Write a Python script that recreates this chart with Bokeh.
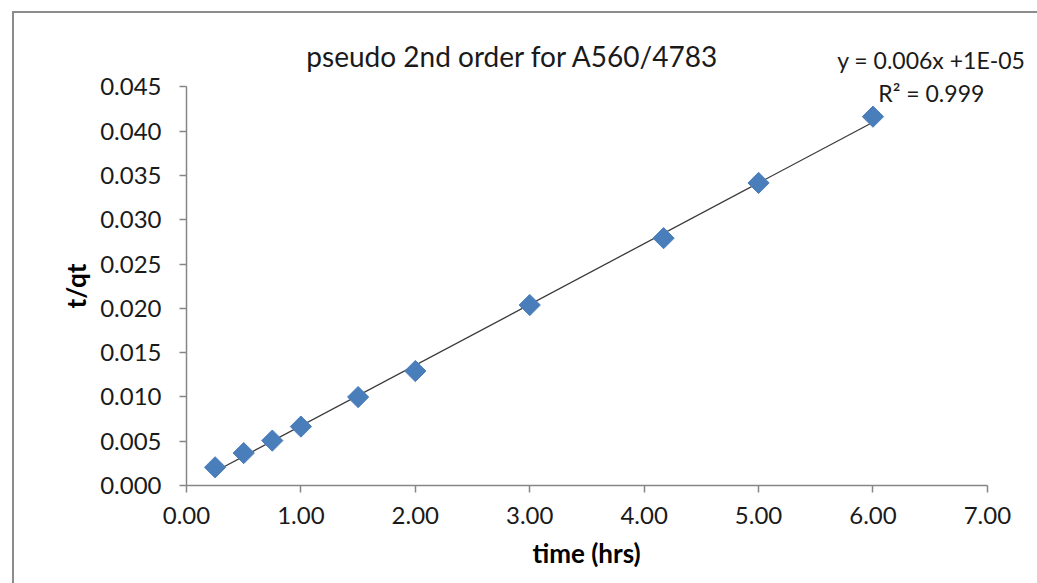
import numpy as np
from bokeh.plotting import figure
from bokeh.models import Label, FixedTicker, NumeralTickFormatter, Range1d, Title
from bokeh.embed import file_html
from bokeh.resources import INLINE

# data
time_hrs = [0.25, 0.5, 0.75, 1.0, 1.5, 2.0, 3.0, 4.17, 5.0, 6.0]
t_over_qt = [0.00205, 0.00366, 0.00507, 0.00665, 0.00998, 0.01292, 0.02037, 0.02792, 0.03415, 0.04163]
x_ticks = [0, 1, 2, 3, 4, 5, 6, 7]
y_ticks = [0.0, 0.005, 0.010, 0.015, 0.020, 0.025, 0.030, 0.035, 0.040, 0.045]
title_text = "pseudo 2nd order for A560/4783"
eq_text = "y = 0.006x +1E-05"
r2_text = "R\u00b2 = 0.999"
x_label = "time (hrs)"
y_label = "t/qt"

X_MAX, Y_MAX = 7.0, 0.045
# the frame is extended past the axis bounds so that the title and equation fit inside it
x_end = X_MAX * 851 / 799
y_end = Y_MAX * 470 / 397

FONT = "Lato"
AX = "#868686"
TXT = "#1a1a1a"

p = figure(width=1025, height=572, output_backend="svg", toolbar_location=None,
           x_range=Range1d(0, x_end), y_range=Range1d(0, y_end),
           min_border_left=172, min_border_right=0, min_border_top=0, min_border_bottom=100,
           margin=(11, 0, 0, 12))
p.styles = {"border-left": "2px solid #8c8c8c", "border-top": "2px solid #8c8c8c", "box-sizing": "border-box"}
p.outline_line_color = None
p.grid.visible = False
p.background_fill_color = "white"
p.border_fill_color = "white"

for ax in (p.xaxis[0], p.yaxis[0]):
    ax.axis_line_color = AX
    ax.axis_line_width = 1.5
    ax.major_tick_line_color = AX
    ax.major_tick_line_width = 1.5
    ax.major_tick_out = 7
    ax.major_tick_in = 0
    ax.minor_tick_line_color = None
    ax.major_label_text_font = FONT
    ax.major_label_text_font_size = "24px"
    ax.major_label_text_color = TXT

p.xaxis.bounds = (0, X_MAX)
p.yaxis.bounds = (0, Y_MAX)
p.xaxis.ticker = FixedTicker(ticks=x_ticks)
p.yaxis.ticker = FixedTicker(ticks=y_ticks)
p.xaxis.formatter = NumeralTickFormatter(format="0.00")
p.yaxis.formatter = NumeralTickFormatter(format="0.000")
p.xaxis.major_label_standoff = 14
p.yaxis.major_label_standoff = 18

# axis titles, centred on the axis bounds rather than the (extended) frame
p.add_layout(Title(text=x_label, align="left", offset=346, standoff=17,
                   text_font=FONT, text_font_size="26px", text_font_style="bold",
                   text_color="#000000"), "below")
p.add_layout(Title(text=y_label, align="left", offset=177, standoff=11,
                   text_font=FONT, text_font_size="26px", text_font_style="bold",
                   text_color="#000000"), "left")

# trendline
slope, intercept = np.polyfit(time_hrs, t_over_qt, 1)
tx = np.array([min(time_hrs), max(time_hrs)])
p.line(tx, slope * tx + intercept, line_color="#3a3a3a", line_width=1.3)

p.scatter(time_hrs, t_over_qt, marker="square", angle=np.pi / 4, size=15,
          fill_color="#4a7ebb", line_color="#4a7ebb", line_width=1)

p.add_layout(Label(x=2.852, y=0.0485, text=title_text, text_font=FONT, text_font_size="28px",
                   text_align="center", text_baseline="middle", text_color=TXT))
p.add_layout(Label(x=6.51, y=0.0480, text=eq_text, text_font=FONT, text_font_size="23px",
                   text_align="center", text_baseline="middle", text_color=TXT))
p.add_layout(Label(x=6.51, y=0.0443, text=r2_text, text_font=FONT, text_font_size="23px",
                   text_align="center", text_baseline="middle", text_color=TXT))

open("out.html", "w").write(file_html(p, INLINE))
